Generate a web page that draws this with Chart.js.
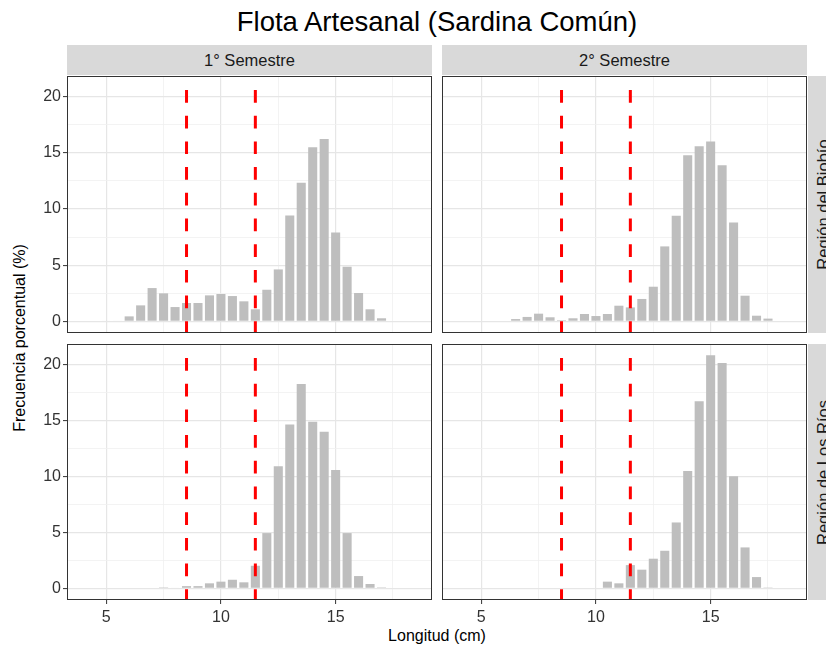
<!DOCTYPE html>
<html>
<head>
<meta charset="utf-8">
<script src="https://cdn.jsdelivr.net/npm/chart.js@4/dist/chart.umd.min.js"></script>
<style>
html,body{margin:0;padding:0;background:#fff;overflow:hidden;}
#wrap{position:relative;width:826px;height:647px;overflow:hidden;font-family:"Liberation Sans",Arial,sans-serif;background:#fff;}
#wrap canvas{position:absolute;}
.strip{position:absolute;background:#D9D9D9;color:#1A1A1A;font-size:16.5px;display:flex;align-items:center;justify-content:center;overflow:visible;}
.strip span{white-space:nowrap;display:block;}
.vstrip span{transform:rotate(-90deg);}
.txt{position:absolute;white-space:nowrap;text-align:center;color:#000;}
</style>
</head>
<body>
<div id="wrap">
  <div class="txt" id="title" style="left:67px;width:740px;top:5px;line-height:34px;font-size:27.5px;"></div>
  <div class="strip" id="s1" style="left:67px;top:45px;width:365px;height:30px;"><span></span></div>
  <div class="strip" id="s2" style="left:442px;top:45px;width:365px;height:30px;"><span></span></div>
  <div class="strip vstrip" id="r1" style="left:808px;top:76px;width:30px;height:257px;"><span></span></div>
  <div class="strip vstrip" id="r2" style="left:808px;top:344px;width:30px;height:256px;"><span></span></div>
  <div class="txt" id="ytitle" style="left:-130px;width:300px;top:328px;line-height:20px;font-size:16px;transform:rotate(-90deg);"></div>
  <div class="txt" id="xtitle" style="left:67px;width:740px;top:626px;line-height:20px;font-size:16px;"></div>
  <canvas id="p1" width="402" height="257" style="left:30px;top:76px;"></canvas>
  <canvas id="p2" width="365" height="257" style="left:442px;top:76px;"></canvas>
  <canvas id="p3" width="402" height="282" style="left:30px;top:344px;"></canvas>
  <canvas id="p4" width="365" height="282" style="left:442px;top:344px;"></canvas>
</div>
<script>
// ---- data ----
const chartTitle = 'Flota Artesanal (Sardina Común)';
const semesters = ['1° Semestre', '2° Semestre'];
const regions = ['Región del Biobío', 'Región de Los Ríos'];
const xAxisTitle = 'Longitud (cm)';
const yAxisTitle = 'Frecuencia porcentual (%)';
const lengths = [5,5.5,6,6.5,7,7.5,8,8.5,9,9.5,10,10.5,11,11.5,12,12.5,13,13.5,14,14.5,15,15.5,16,16.5,17,17.5];
const biobioS1  = [0.05,0.05,0.44,1.42,2.96,2.49,1.27,1.63,1.63,2.31,2.43,2.25,1.78,1.07,2.81,4.62,9.42,12.33,15.5,16.24,7.91,4.86,2.52,1.07,0.27,null];
const biobioS2  = [null,null,null,0.2,0.39,0.68,0.36,0.1,0.27,0.65,0.47,0.65,1.39,1.24,1.99,3.08,6.67,9.39,14.79,15.59,16.0,13.9,8.8,2.28,0.5,0.24];
const losRiosS1 = [null,null,null,null,null,0.09,0.05,0.2,0.2,0.45,0.6,0.77,0.54,2.02,4.94,10.92,14.64,18.27,14.88,13.99,10.57,4.94,1.1,0.39,0.09,null];
const losRiosS2 = [null,null,null,null,null,null,null,null,null,null,null,0.6,0.45,2.08,1.67,2.65,3.36,5.89,10.5,16.73,20.83,20.15,10.03,3.66,1.01,0.08];
const cutoffs = [8.5, 11.5];
const xTicks = [5, 7.5, 10, 12.5, 15, 17.5];
const yTicks = [0, 2.5, 5, 7.5, 10, 12.5, 15, 17.5, 20];
const xRange = [3.29, 19.2];
const yRange = [-1.04, 21.84];

// ---- text ----
document.getElementById('title').textContent = chartTitle;
document.querySelector('#s1 span').textContent = semesters[0];
document.querySelector('#s2 span').textContent = semesters[1];
document.querySelector('#r1 span').textContent = regions[0];
document.querySelector('#r2 span').textContent = regions[1];
document.getElementById('xtitle').textContent = xAxisTitle;
document.getElementById('ytitle').textContent = yAxisTitle;

const FONT = '"Liberation Sans", Arial, sans-serif';
const isMajor = v => Math.abs(v % 5) < 1e-9;

const panelDecor = {
  id: 'panelDecor',
  afterDatasetsDraw(chart) {
    const {ctx, chartArea: a, scales: {x}} = chart;
    ctx.save();
    ctx.beginPath();
    ctx.rect(a.left, a.top, a.right - a.left, a.bottom - a.top);
    ctx.clip();
    ctx.strokeStyle = '#FF0000';
    ctx.lineWidth = 3;
    ctx.setLineDash([12.7, 13]);
    ctx.lineDashOffset = 11.7;
    cutoffs.forEach(v => {
      const px = x.getPixelForValue(v);
      ctx.beginPath();
      ctx.moveTo(px, a.top);
      ctx.lineTo(px, a.bottom);
      ctx.stroke();
    });
    ctx.restore();
    ctx.save();
    ctx.strokeStyle = '#333333';
    ctx.lineWidth = 1;
    ctx.strokeRect(a.left + 0.5, a.top + 0.5, a.right - a.left - 1, a.bottom - a.top - 1);
    ctx.restore();
  }
};

function zeroPad(s) { s.paddingTop = 0; s.paddingBottom = 0; s.paddingLeft = 0; s.paddingRight = 0; }

function makePanel(id, values, showX, showY) {
  const points = lengths.map((x, i) => ({x: x, y: values[i]})).filter(p => p.y !== null);
  return new Chart(document.getElementById(id), {
    type: 'bar',
    data: {
      datasets: [{
        data: points,
        backgroundColor: '#BEBEBE',
        borderWidth: 0,
        barPercentage: 0.79,
        categoryPercentage: 1.0
      }]
    },
    options: {
      responsive: false,
      animation: false,
      devicePixelRatio: 1,
      layout: {padding: 0},
      plugins: {legend: {display: false}, tooltip: {enabled: false}, title: {display: false}},
      scales: {
        x: {
          type: 'linear',
          min: xRange[0], max: xRange[1],
          offset: false,
          afterBuildTicks: s => { s.ticks = xTicks.map(v => ({value: v})); },
          afterFit: s => { s.height = showX ? 26 : 0; zeroPad(s); },
          border: {display: false},
          grid: {
            offset: false,
            color: c => isMajor(c.tick.value) ? '#E6E6E6' : '#F0F0F0',
            lineWidth: c => isMajor(c.tick.value) ? 1.2 : 0.8,
            drawTicks: showX,
            tickLength: 4,
            tickColor: c => isMajor(c.tick.value) ? '#333333' : 'rgba(0,0,0,0)',
            tickWidth: 1
          },
          ticks: {
            display: showX, autoSkip: false, maxRotation: 0, minRotation: 0, padding: 4,
            color: '#333333', font: {family: FONT, size: 16},
            callback: v => isMajor(v) ? String(v) : ''
          }
        },
        y: {
          type: 'linear',
          min: yRange[0], max: yRange[1],
          afterBuildTicks: s => { s.ticks = yTicks.map(v => ({value: v})); },
          afterFit: s => { s.width = showY ? 37 : 0; zeroPad(s); },
          border: {display: false},
          grid: {
            color: c => isMajor(c.tick.value) ? '#E6E6E6' : '#F0F0F0',
            lineWidth: c => isMajor(c.tick.value) ? 1.2 : 0.8,
            drawTicks: showY,
            tickLength: 4,
            tickColor: c => isMajor(c.tick.value) ? '#333333' : 'rgba(0,0,0,0)',
            tickWidth: 1
          },
          ticks: {
            display: showY, autoSkip: false, padding: 2,
            color: '#333333', font: {family: FONT, size: 16},
            callback: v => isMajor(v) ? String(v) : ''
          }
        }
      }
    },
    plugins: [panelDecor]
  });
}

makePanel('p1', biobioS1, false, true);
makePanel('p2', biobioS2, false, false);
makePanel('p3', losRiosS1, true, true);
makePanel('p4', losRiosS2, true, false);
</script>
</body>
</html>
